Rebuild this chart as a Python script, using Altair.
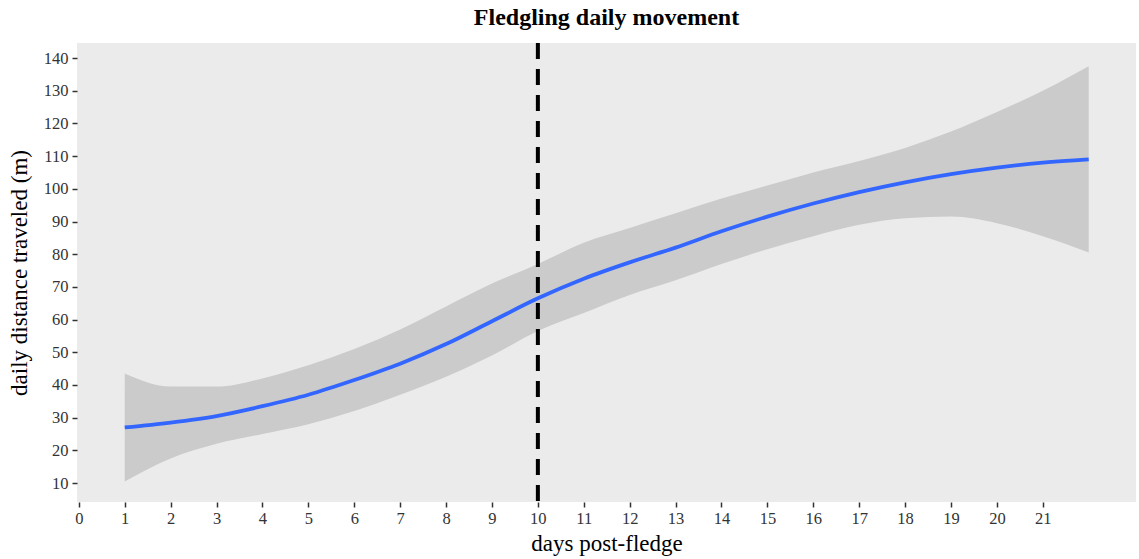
import altair as alt
import pandas as pd

days = list(range(1, 23))
fit = [27, 28.5, 30.5, 33.5, 37, 41.5, 46.5, 52.5, 59.5, 66.5, 72.5, 77.5,
       82, 87, 91.5, 95.5, 99, 102, 104.5, 106.5, 108, 109]
upper = [43.5, 39.5, 39.5, 42, 46, 51, 57, 64, 71, 77, 83.5, 88,
         92.5, 97, 101, 105, 108.5, 112.5, 117.5, 123.5, 130, 137.5]
lower = [10.5, 17.5, 22, 25, 28, 32, 37, 42.5, 49, 56.5, 62, 67.5,
         72, 77, 81.5, 85.5, 89, 91, 91.5, 89.5, 85.5, 80.5]
x_ticks = list(range(0, 22))
y_ticks = list(range(10, 150, 10))
fledge_day = 10

df = pd.DataFrame({"day": days, "fit": fit, "upper": upper, "lower": lower})
vline = pd.DataFrame({"day": [fledge_day]})

FONT = "Liberation Serif"
xs = alt.Scale(domain=[-0.04, 23.03], nice=False, zero=False)
ys = alt.Scale(domain=[4.2, 144.6], nice=False, zero=False)

xaxis = alt.Axis(values=x_ticks, title="days post-fledge", labelPadding=3, titlePadding=6)
yaxis = alt.Axis(values=y_ticks, title="daily distance traveled (m)", labelPadding=4, titlePadding=12)

band = alt.Chart(df).mark_area(color="#CBCBCB", opacity=1, interpolate="monotone").encode(
    x=alt.X("day:Q", scale=xs, axis=xaxis),
    y=alt.Y("lower:Q", scale=ys, axis=yaxis),
    y2="upper:Q",
)
line = alt.Chart(df).mark_line(color="#3366FF", strokeWidth=3.8, interpolate="monotone").encode(
    x=alt.X("day:Q", scale=xs, axis=xaxis),
    y=alt.Y("fit:Q", scale=ys, axis=yaxis),
)
rule = alt.Chart(vline).mark_rule(color="black", strokeWidth=4, strokeDash=[16, 10]).encode(
    x=alt.X("day:Q", scale=xs, axis=xaxis),
)

chart = (band + line + rule).properties(
    width=1059, height=459,
    title=alt.TitleParams("Fledgling daily movement", font=FONT, fontSize=24,
                          fontWeight="bold", color="#000000", anchor="middle", offset=11),
    autosize=alt.AutoSizeParams(type="none"),
    padding={"left": 77, "top": 43, "right": 3, "bottom": 57},
    background="white",
).configure_view(fill="#EBEBEB", strokeWidth=0).configure_axis(
    grid=False, domain=False, tickColor="#333333", tickSize=5, tickWidth=1.5,
    labelColor="#333333", labelFont=FONT, labelFontSize=16.5, titleFont=FONT,
    titleFontSize=23, titleFontWeight="normal", titleColor="#000000",
    labelOverlap=False, labelFlush=False,
)

chart.save("out.html", embed_options={"renderer": "svg", "actions": False})
